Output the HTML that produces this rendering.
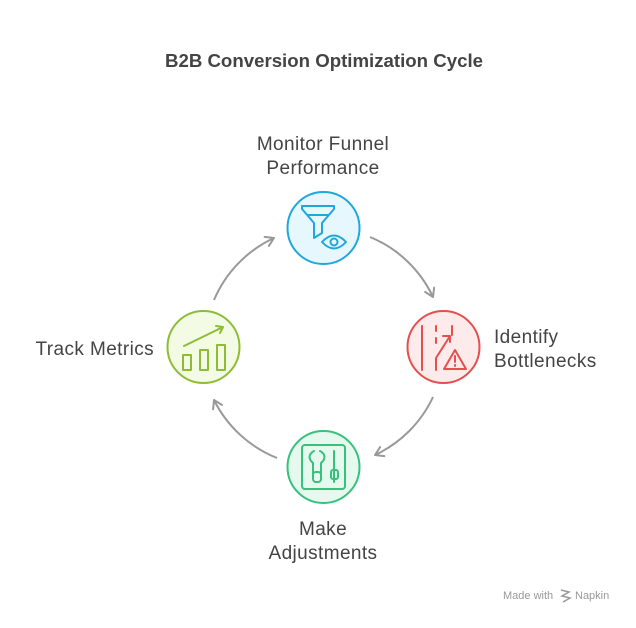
<!DOCTYPE html>
<html><head><meta charset="utf-8"><style>
body{margin:0;background:#fff;width:636px;height:623px;overflow:hidden;font-family:"Liberation Sans",sans-serif}
</style></head><body>
<svg width="636" height="623" viewBox="0 0 636 623" xmlns="http://www.w3.org/2000/svg">
<defs><marker id="a" viewBox="0 0 12 12" refX="10" refY="6" markerWidth="12" markerHeight="12" markerUnits="userSpaceOnUse" orient="auto"><path d="M2 1 L10 6 L2 11" fill="none" stroke="#999" stroke-width="2" stroke-linecap="round" stroke-linejoin="round"/></marker></defs>
<text x="324" y="67" text-anchor="middle" font-size="18" font-weight="bold" fill="#444" textLength="318" lengthAdjust="spacingAndGlyphs">B2B Conversion Optimization Cycle</text>
<g fill="none" stroke="#999" stroke-width="2" marker-end="url(#a)">
<path d="M370 237 A120 120 0 0 1 433 297"/>
<path d="M433 397 A120 120 0 0 1 375 455"/>
<path d="M277 458 A120 120 0 0 1 214 400"/>
<path d="M214 300 A120 120 0 0 1 274 238"/>
</g>
<circle cx="323.5" cy="228" r="36" fill="#e6f7fd" stroke="#1fa8dc" stroke-width="2"/>
<circle cx="443.5" cy="347" r="36" fill="#fdeaea" stroke="#e5504f" stroke-width="2"/>
<circle cx="323.5" cy="467" r="36" fill="#e5f9ef" stroke="#35c27c" stroke-width="2"/>
<circle cx="203.5" cy="347" r="36" fill="#f3fbe4" stroke="#8ebd35" stroke-width="2"/>
<!-- funnel eye -->
<g fill="none" stroke="#1fa8dc" stroke-width="2" stroke-linejoin="round">
<path d="M302 206 L334 206 L334 209 L322 223 L322 233 L314 238 L314 223 L302 209 Z"/><path d="M307 215 L329 215"/>
<path d="M322 242 Q334 229 346 242 Q334 255 322 242 Z"/><circle cx="334" cy="242" r="3.5"/>
</g>
<!-- bottleneck -->
<g fill="none" stroke="#e5504f" stroke-width="2" stroke-linecap="round" stroke-linejoin="round">
<path d="M422 326 L422 370"/><path d="M436 326 L436 331 M436 338 L436 343"/><path d="M452 326 L452 335"/>
<path d="M436 370 L436 358 L450 336 M443 336 L450 336 L450 342"/><path d="M436 364 L436 368"/>
<path d="M455 350 L466 369 L444 369 Z"/><path d="M455 356 L455 362 M455 365 L455 366"/>
</g>
<!-- adjustments -->
<g fill="none" stroke="#35c27c" stroke-width="2" stroke-linecap="round" stroke-linejoin="round">
<rect x="302" y="445" width="43" height="44" rx="3"/>
<path d="M314 451 Q307 455 311 461 L313 463 L313 474 M320 451 Q327 455 323 461 L321 463 L321 474"/>
<rect x="313" y="472" width="8" height="10" rx="3"/>
<path d="M334 451 L334 482"/><rect x="331" y="470" width="7" height="9" rx="2"/>
</g>
<!-- metrics -->
<g fill="none" stroke="#8ebd35" stroke-width="2" stroke-linejoin="round" stroke-linecap="round">
<path d="M184 346 L223 327 M216 326 L223 327 L220 333"/>
<rect x="183" y="355" width="8" height="15"/><rect x="200" y="350" width="8" height="20"/><rect x="217" y="345" width="8" height="25"/>
</g>
<g font-size="19" fill="#444" letter-spacing="0.4">
<text x="323" y="150" text-anchor="middle">Monitor Funnel</text>
<text x="323" y="174" text-anchor="middle">Performance</text>
<text x="494" y="343">Identify</text>
<text x="494" y="367">Bottlenecks</text>
<text x="323" y="535" text-anchor="middle">Make</text>
<text x="323" y="559" text-anchor="middle">Adjustments</text>
<text x="154" y="355" text-anchor="end">Track Metrics</text>
</g>
<text x="503" y="599" font-size="11" fill="#999">Made with</text>
<path d="M561 590 L569 592 L562 596 L570 598 L563 602" fill="none" stroke="#999" stroke-width="1.5"/>
<text x="575" y="599" font-size="11" fill="#999">Napkin</text>
</svg>
</body></html>
